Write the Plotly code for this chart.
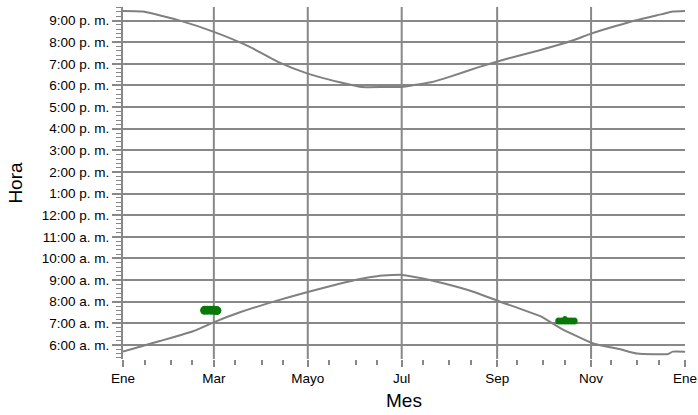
# Horario de salida y puesta del sol a lo largo del año, con eventos marcados en verde

import plotly.graph_objects as go

# ------------------------------
# Datos (día del año, hora decimal)
# ------------------------------

dias_ocaso = [0, 13, 37, 59, 82, 101, 120, 145, 155, 170, 181, 190, 200, 212, 231, 250, 270, 292, 304, 320, 334, 350, 357, 365]
hora_ocaso = [21.45, 21.42, 21.0, 20.48, 19.8, 19.08, 18.55, 18.08, 17.93, 17.93, 17.93, 18.03, 18.15, 18.4, 18.85, 19.25, 19.62, 20.08, 20.4, 20.75, 21.03, 21.3, 21.42, 21.45]

dias_orto = [0, 11, 24, 45, 60, 76, 100, 120, 140, 154, 165, 175, 181, 194, 208, 228, 245, 271, 284, 305, 323, 334, 354, 357, 365]
hora_orto = [5.69, 5.92, 6.18, 6.62, 7.08, 7.51, 8.05, 8.45, 8.82, 9.05, 9.18, 9.23, 9.24, 9.08, 8.85, 8.45, 8.0, 7.33, 6.78, 6.08, 5.8, 5.6, 5.58, 5.69, 5.69]

# eventos (zonas verdes)
dias_marzo = [53, 55, 57, 59, 61]
hora_marzo = [7.6, 7.61, 7.61, 7.6, 7.59]

dias_octubre = [283, 285, 287, 289, 291, 293, 287]
hora_octubre = [7.11, 7.11, 7.11, 7.11, 7.11, 7.11, 7.22]

mes_ticks = [0, 59, 120, 181, 243, 304, 365]
mes_labels = ['Ene', 'Mar', 'Mayo', 'Jul', 'Sep', 'Nov', 'Ene']
mes_menores = [14, 31, 45, 73, 90, 104, 134, 151, 165, 195, 212, 226, 256, 273, 287, 317, 334, 348]

hora_ticks = list(range(6, 22))
hora_labels = ['6:00 a. m.', '7:00 a. m.', '8:00 a. m.', '9:00 a. m.', '10:00 a. m.', '11:00 a. m.',
               '12:00 p. m.', '1:00 p. m.', '2:00 p. m.', '3:00 p. m.', '4:00 p. m.', '5:00 p. m.',
               '6:00 p. m.', '7:00 p. m.', '8:00 p. m.', '9:00 p. m.']

GRIS = '#888888'
VERDE = '#087808'

# ------------------------------
# Figura
# ------------------------------

fig = go.Figure()

fig.add_trace(go.Scatter(x=dias_ocaso, y=hora_ocaso, mode='lines',
                         line=dict(color='#808080', width=2, shape='spline', smoothing=0.5)))
fig.add_trace(go.Scatter(x=dias_orto, y=hora_orto, mode='lines',
                         line=dict(color='#808080', width=2, shape='spline', smoothing=0.5)))

fig.add_trace(go.Scatter(x=dias_marzo, y=hora_marzo, mode='markers',
                         marker=dict(color=VERDE, size=9, symbol='circle', opacity=1, line=dict(width=0))))
fig.add_trace(go.Scatter(x=dias_octubre, y=hora_octubre, mode='markers',
                         marker=dict(color=VERDE, size=[7, 7, 7, 7, 7, 7, 5], symbol='circle',
                                     opacity=1, line=dict(width=0))))

# líneas verticales de meses (sin la del borde derecho)
for d in mes_ticks[1:-1]:
    fig.add_vline(x=d, line_color=GRIS, line_width=2, layer='below')

fig.update_layout(
    width=698, height=415,
    margin=dict(l=123, r=13, t=7, b=56),
    plot_bgcolor='white', paper_bgcolor='white',
    showlegend=False,
    font=dict(family='Liberation Sans, Arial, sans-serif', color='#000000', size=13.5),
)

fig.update_xaxes(
    range=[0, 365], automargin=False,
    tickmode='array', tickvals=mes_ticks, ticktext=mes_labels,
    showgrid=False, zeroline=False, showline=False,
    ticks='outside', ticklen=7, tickwidth=2, tickcolor=GRIS,
    minor=dict(tickmode='array', tickvals=mes_menores, ticks='outside', ticklen=5,
               tickwidth=1.5, tickcolor=GRIS, showgrid=False),
    title=dict(text='Mes', font=dict(size=19), standoff=8),
)

fig.update_yaxes(
    range=[5.35, 21.63], automargin=False,
    tickmode='array', tickvals=hora_ticks, ticktext=hora_labels,
    showgrid=True, gridcolor=GRIS, gridwidth=2,
    zeroline=False, showline=True, linecolor=GRIS, linewidth=2,
    ticks='outside', ticklen=9, tickwidth=1.5, tickcolor=GRIS,
    minor=dict(dtick=0.2, tick0=0, ticks='outside', ticklen=5, tickwidth=1,
               tickcolor=GRIS, showgrid=False),
    title=dict(text='Hora', font=dict(size=19), standoff=14),
)

# sin margen de página, para que la figura ocupe la ventana completa
fig.write_html("out.html", config={'displayModeBar': False},
               post_script="document.body.style.margin='0';")
